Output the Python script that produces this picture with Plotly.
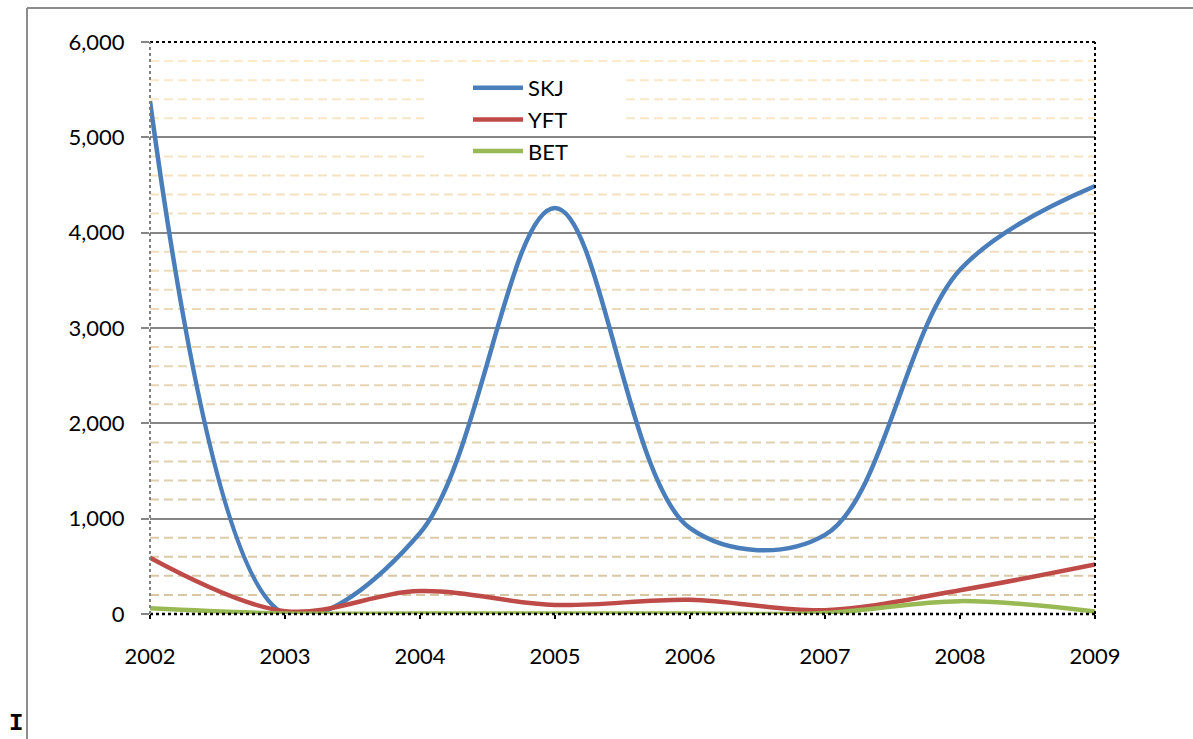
import plotly.graph_objects as go

years = [2002, 2003, 2004, 2005, 2006, 2007, 2008, 2009]
skj = [5380, 0, 850, 4260, 900, 830, 3610, 4490]
yft = [590, 30, 240, 95, 150, 40, 250, 520]
bet = [60, 5, 5, 5, 5, 10, 135, 25]

series = [("SKJ", skj, "#4A7EBB"), ("YFT", yft, "#BE4B48"), ("BET", bet, "#98B954")]
y_ticks = [0, 1000, 2000, 3000, 4000, 5000, 6000]
minor_levels = [v for v in range(200, 6000, 200) if v % 1000 != 0]

FONT = "Lato, 'Open Sans', sans-serif"

fig = go.Figure()
for name, vals, col in series:
    fig.add_trace(go.Scatter(
        x=years, y=vals, name=name, mode="lines",
        line=dict(color=col, width=4.5, shape="spline", smoothing=1.0),
    ))

shapes = []
top_c = (253, 235, 203)
bot_c = (214, 198, 162)
for v in minor_levels:
    t = v / 6000.0
    c = tuple(int(round(bot_c[i] + (top_c[i] - bot_c[i]) * t)) for i in range(3))
    shapes.append(dict(type="line", xref="x domain", yref="y", x0=0, x1=1, y0=v, y1=v,
                       layer="below", line=dict(color="rgb(%d,%d,%d)" % c, width=2, dash="9px,5px")))
shapes.append(dict(type="rect", xref="paper", yref="paper",
                   x0=(424 - 150) / 945, x1=(622 - 150) / 945,
                   y0=(614 - 166) / 572, y1=(614 - 70) / 572,
                   layer="below", fillcolor="white", line=dict(width=0)))
shapes += [
    dict(type="line", xref="paper", yref="paper", x0=0, x1=1, y0=1, y1=1,
         line=dict(color="black", width=2, dash="dot")),
    dict(type="line", xref="paper", yref="paper", x0=1, x1=1, y0=0, y1=1,
         line=dict(color="black", width=2, dash="dot")),
    dict(type="line", xref="paper", yref="paper", x0=0, x1=1, y0=0, y1=0,
         line=dict(color="black", width=2.5, dash="dot")),
    dict(type="line", xref="paper", yref="paper", x0=0, x1=0, y0=0, y1=1,
         line=dict(color="#808080", width=2, dash="dot")),
]
fx = (27 - 150) / 945
fy_top = (614 - 8) / 572
fy_bot = (614 - 739) / 572
shapes += [
    dict(type="line", xref="paper", yref="paper", x0=fx, x1=(1193 - 150) / 945, y0=fy_top, y1=fy_top,
         line=dict(color="#8C8C8C", width=2)),
    dict(type="line", xref="paper", yref="paper", x0=fx, x1=fx, y0=fy_bot, y1=fy_top,
         line=dict(color="#8C8C8C", width=2)),
]

fig.update_layout(
    width=1193, height=739,
    margin=dict(l=150, r=98, t=42, b=125),
    paper_bgcolor="white", plot_bgcolor="white",
    font=dict(family=FONT, size=22, color="black"),
    shapes=shapes,
    showlegend=True,
    legend=dict(x=(468 - 150) / 945, y=(614 - 67) / 572, xanchor="left", yanchor="top",
                bgcolor="rgba(0,0,0,0)", font=dict(family=FONT, size=22, color="black"),
                itemwidth=50, tracegroupgap=0),
    xaxis=dict(range=[2002, 2009], tickvals=years, ticktext=[str(y) for y in years],
               showgrid=False, zeroline=False, showline=False,
               ticks="outside", ticklen=4, tickwidth=2, tickcolor="black",
               ticklabelstandoff=19, tickfont=dict(family=FONT, size=22)),
    yaxis=dict(range=[0, 6000], tickvals=y_ticks, ticktext=["{:,}".format(v) for v in y_ticks],
               showgrid=True, gridcolor="#868686", gridwidth=1.5, zeroline=False, showline=False,
               ticks="outside", ticklen=8, tickwidth=1.5, tickcolor="#868686",
               ticklabelstandoff=12, tickfont=dict(family=FONT, size=22)),
    annotations=[dict(text="<b>I</b>", xref="paper", yref="paper",
                      x=(16 - 150) / 945, y=(614 - 723) / 572, xanchor="center", yanchor="middle",
                      showarrow=False,
                      font=dict(family="Liberation Mono, DejaVu Sans Mono, monospace", size=24, color="black"))],
)

fig.write_html("out.html")
